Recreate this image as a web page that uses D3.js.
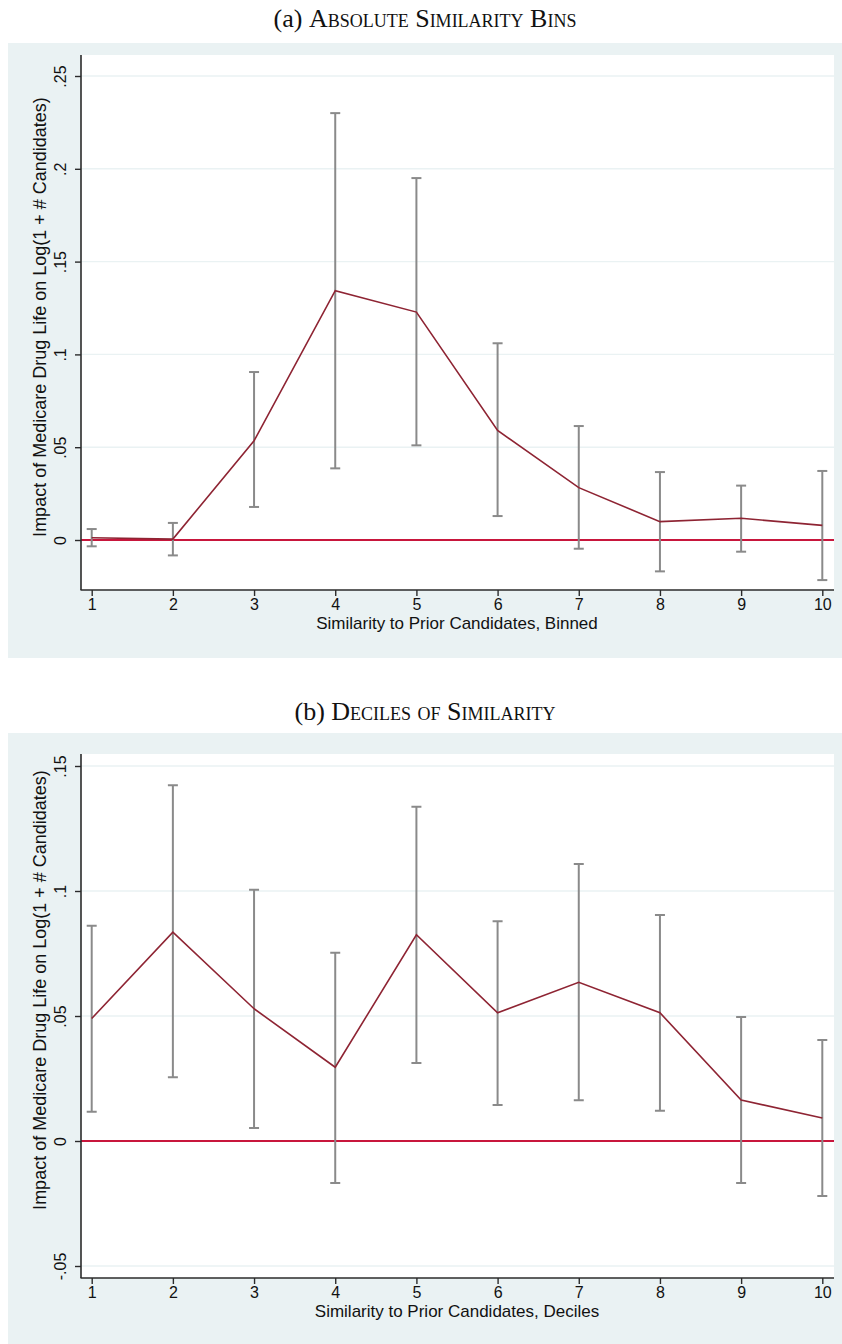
<!DOCTYPE html>
<html>
<head>
<meta charset="utf-8">
<script src="https://cdn.jsdelivr.net/npm/d3@7"></script>
<style>
  html, body { margin: 0; padding: 0; background: #ffffff; }
  svg { display: block; }
  .title { font-family: "Liberation Serif", "DejaVu Serif", serif; font-size: 26px; fill: #111; }
  .title .sc { font-variant: small-caps; }
  .tick text, .axis-title { font-family: "Liberation Sans Narrow", "Liberation Sans", Arial, sans-serif; fill: #111; }
</style>
</head>
<body>
<script>
// Event-study style estimates by similarity bin / decile
const categories = [1, 2, 3, 4, 5, 6, 7, 8, 9, 10];

// Panel (a): absolute similarity bins
const binsEstimate = [0.0012, 0.0005, 0.0535, 0.1343, 0.1228, 0.0590, 0.0282, 0.0099, 0.0117, 0.0079];
const binsLower    = [-0.0034, -0.0083, 0.0178, 0.0386, 0.0510, 0.0129, -0.0047, -0.0169, -0.0063, -0.0216];
const binsUpper    = [0.0059, 0.0092, 0.0905, 0.2300, 0.1950, 0.1060, 0.0614, 0.0366, 0.0293, 0.0372];
const binsTicks    = [0, 0.05, 0.1, 0.15, 0.2, 0.25];
const binsTickLabels = ["0", ".05", ".1", ".15", ".2", ".25"];

// Panel (b): deciles of similarity
const decEstimate = [0.0490, 0.0835, 0.0529, 0.0295, 0.0825, 0.0513, 0.0635, 0.0513, 0.0164, 0.0092];
const decLower    = [0.0117, 0.0255, 0.0052, -0.0168, 0.0312, 0.0144, 0.0163, 0.0121, -0.0168, -0.0220];
const decUpper    = [0.0861, 0.1423, 0.1005, 0.0753, 0.1337, 0.0879, 0.1108, 0.0904, 0.0496, 0.0404];
const decTicks    = [-0.05, 0, 0.05, 0.1, 0.15];
const decTickLabels = ["-.05", "0", ".05", ".1", ".15"];

const yTitle = "Impact of Medicare Drug Life on Log(1 + # Candidates)";

const W = 842, H = 1344;
const svg = d3.select("body").append("svg").attr("width", W).attr("height", H);

const COLORS = {
  bg: "#eaf2f3",
  grid: "#eaf2f3",
  line: "#8e2433",
  zero: "#c8163c",
  bar: "#8a8a8a",
  axis: "#2b2b2b"
};

function panel(opt) {
  const g = svg.append("g");

  // Panel heading: label in roman, name in small capitals
  const t = g.append("text").attr("class", "title")
    .attr("x", W / 2 + 4).attr("y", opt.titleY)
    .attr("text-anchor", "middle");
  t.append("tspan").text(opt.label + " ");
  t.append("tspan").attr("class", "sc").text(opt.title);

  // Graph background
  g.append("rect")
    .attr("x", 8).attr("y", opt.bgTop)
    .attr("width", W - 8).attr("height", opt.bgBottom - opt.bgTop)
    .attr("fill", COLORS.bg);

  const x = d3.scaleLinear().domain([1, 10]).range([91.7, 822.3]);
  const y = d3.scaleLinear().domain(opt.yDomain).range(opt.yRange);

  const left = 81, right = 834, top = opt.plotTop, bottom = opt.plotBottom;

  // Plot region
  g.append("rect")
    .attr("x", left).attr("y", top)
    .attr("width", right - left).attr("height", bottom - top)
    .attr("fill", "#ffffff");

  // Horizontal gridlines
  g.append("g").selectAll("line")
    .data(opt.ticks.filter(v => v !== 0))
    .join("line")
    .attr("x1", left).attr("x2", right)
    .attr("y1", d => y(d)).attr("y2", d => y(d))
    .attr("stroke", COLORS.grid).attr("stroke-width", 1.4);

  // Reference line at zero
  g.append("line")
    .attr("x1", left).attr("x2", right)
    .attr("y1", y(0)).attr("y2", y(0))
    .attr("stroke", COLORS.zero).attr("stroke-width", 1.8);

  // Confidence intervals
  const bars = g.append("g");
  const capW = 5;
  categories.forEach((c, i) => {
    const cx = x(c);
    bars.append("line")
      .attr("x1", cx).attr("x2", cx)
      .attr("y1", y(opt.lower[i])).attr("y2", y(opt.upper[i]))
      .attr("stroke", COLORS.bar).attr("stroke-width", 2);
    [opt.lower[i], opt.upper[i]].forEach(v => {
      bars.append("line")
        .attr("x1", cx - capW).attr("x2", cx + capW)
        .attr("y1", y(v)).attr("y2", y(v))
        .attr("stroke", COLORS.bar).attr("stroke-width", 2);
    });
  });

  // Point estimates connected
  const line = d3.line().x((d, i) => x(categories[i])).y(d => y(d));
  g.append("path")
    .datum(opt.estimate)
    .attr("d", line)
    .attr("fill", "none")
    .attr("stroke", COLORS.line)
    .attr("stroke-width", 1.6)
    .attr("stroke-linejoin", "miter");

  // X axis
  const xAxis = d3.axisBottom(x).tickValues(categories).tickSize(6).tickSizeOuter(0).tickPadding(3)
    .tickFormat(d3.format("d"));
  const gx = g.append("g").attr("transform", `translate(0,${bottom})`).call(xAxis);
  gx.select(".domain").remove();
  gx.append("line").attr("x1", left - 0.5).attr("x2", right).attr("y1", 0).attr("y2", 0)
    .attr("stroke", COLORS.axis).attr("stroke-width", 1.6);
  gx.selectAll(".tick line").attr("stroke", COLORS.axis).attr("stroke-width", 1.4);
  gx.selectAll(".tick text").attr("font-size", 16).attr("fill", "#111");

  g.append("text").attr("class", "axis-title")
    .attr("x", (x(1) + x(10)) / 2).attr("y", bottom + 39)
    .attr("text-anchor", "middle").attr("font-size", 17)
    .text(opt.xTitle);

  // Y axis with vertical labels
  const yAxis = d3.axisLeft(y).tickValues(opt.ticks).tickSize(6).tickSizeOuter(0)
    .tickFormat((d, i) => opt.tickLabels[i]);
  const gy = g.append("g").attr("transform", `translate(${left},0)`).call(yAxis);
  gy.select(".domain").remove();
  gy.append("line").attr("x1", 0).attr("x2", 0).attr("y1", top).attr("y2", bottom)
    .attr("stroke", COLORS.axis).attr("stroke-width", 1.6);
  gy.selectAll(".tick line").attr("stroke", COLORS.axis).attr("stroke-width", 1.4);
  gy.selectAll(".tick text")
    .attr("font-size", 16).attr("fill", "#111")
    .attr("x", null).attr("dy", null)
    .attr("text-anchor", "middle")
    .attr("transform", "translate(-15,0) rotate(-90)");

  g.append("text").attr("class", "axis-title")
    .attr("transform", `translate(46,${opt.yTitleY}) rotate(-90)`)
    .attr("text-anchor", "middle").attr("font-size", 18)
    .text(yTitle);
}

panel({
  label: "(a)", title: "Absolute Similarity Bins",
  titleY: 27,
  bgTop: 43, bgBottom: 658,
  plotTop: 55, plotBottom: 590,
  yDomain: [0, 0.25], yRange: [540, 76],
  ticks: binsTicks, tickLabels: binsTickLabels,
  estimate: binsEstimate, lower: binsLower, upper: binsUpper,
  xTitle: "Similarity to Prior Candidates, Binned",
  yTitleY: 317
});

panel({
  label: "(b)", title: "Deciles of Similarity",
  titleY: 720,
  bgTop: 733, bgBottom: 1344,
  plotTop: 754, plotBottom: 1278,
  yDomain: [0, 0.15], yRange: [1141, 766],
  ticks: decTicks, tickLabels: decTickLabels,
  estimate: decEstimate, lower: decLower, upper: decUpper,
  xTitle: "Similarity to Prior Candidates, Deciles",
  yTitleY: 990
});
</script>
</body>
</html>
